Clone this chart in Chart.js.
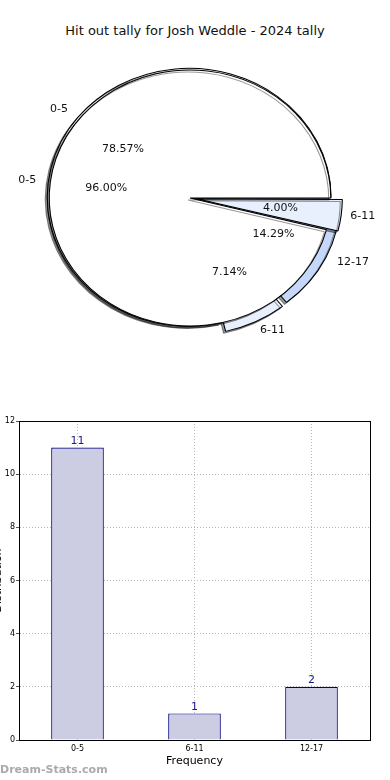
<!DOCTYPE html>
<html>
<head>
<meta charset="utf-8">
<script src="https://cdn.jsdelivr.net/npm/chart.js@4.4.1/dist/chart.umd.min.js"></script>
<style>
body { margin:0; background:#fff; width:390px; height:780px; overflow:hidden; position:relative; font-family:"DejaVu Sans", sans-serif; }
#title { position:absolute; top:23px; left:0; width:390px; text-align:center; font-size:13px; color:#111; }
.pie { position:absolute; left:0; top:38px; }
#bars { position:absolute; left:0; top:400px; }
#mark { position:absolute; left:0; top:763px; font-size:11px; font-weight:bold; color:#aaaaaa; }
</style>
</head>
<body>
<div id="title">Hit out tally for Josh Weddle - 2024 tally</div>
<canvas id="pieOuter" class="pie" width="380" height="320" style="width:380px;height:320px"></canvas>
<canvas id="pieInner" class="pie" width="380" height="320" style="width:380px;height:320px"></canvas>
<canvas id="bars" width="390" height="380" style="width:390px;height:380px"></canvas>
<div id="mark">Dream-Stats.com</div>
<script>
// pie data (outer = 2024, inner = second tally)
const pieOuterLabels = ['0-5', '6-11', '12-17'];
const pieOuterValues = [11, 1, 2];
const pieInnerLabels = ['0-5', '6-11'];
const pieInnerValues = [24, 1];
// bar data
const barLabels = ['0-5', '6-11', '12-17'];
const barValues = [11, 1, 2];
const yTicks = [0, 2, 4, 6, 8, 10, 12];

const sliceColors = {'0-5': '#ffffff', '6-11': '#e8f0fe', '12-17': '#c6d8fa'};
const stretch = 1.1; // pie is drawn a bit wider than tall
const font = '"DejaVu Sans", sans-serif';

// matplotlib goes counter clockwise from east, chart.js clockwise -> reverse
function pieData(labels, values, offsets) {
    return {
        labels: labels.slice().reverse(),
        datasets: [{
            data: values.slice().reverse(),
            backgroundColor: labels.slice().reverse().map(l => sliceColors[l]),
            borderColor: '#000',
            borderWidth: 1,
            offset: offsets.slice().reverse(),
            clip: false
        }]
    };
}

const ellipse = {
    id: 'ellipse',
    beforeDatasetsDraw(chart) {
        const arc = chart.getDatasetMeta(0).data[0];
        const ctx = chart.ctx;
        ctx.save();
        ctx.translate(arc.x, 0);
        ctx.scale(stretch, 1);
        ctx.translate(-arc.x, 0);
        ctx.shadowColor = 'rgba(0,0,0,0.4)';
        ctx.shadowOffsetX = -2;
        ctx.shadowOffsetY = 2;
    },
    afterDatasetsDraw(chart) {
        chart.ctx.restore();
    }
};

function drawPieLabels(chart, src) {
    const ctx = chart.ctx;
    const meta = src.getDatasetMeta(0);
    const vals = src.data.datasets[0].data;
    const total = vals.reduce((a, b) => a + b, 0);
    ctx.save();
    ctx.font = '11px ' + font;
    ctx.fillStyle = '#111';
    ctx.textBaseline = 'middle';
    meta.data.forEach((arc, i) => {
        const mid = (arc.startAngle + arc.endAngle) / 2;
        const off = (arc.options.offset || 0) / 4;
        const r = arc.outerRadius;
        const cx = arc.x + Math.cos(mid) * off * stretch;
        const cy = arc.y + Math.sin(mid) * off;
        const c = Math.cos(mid), s = Math.sin(mid);
        ctx.textAlign = 'center';
        ctx.fillText((100 * vals[i] / total).toFixed(2) + '%', cx + c * r * 0.6 * stretch, cy + s * r * 0.6);
        ctx.textAlign = c >= 0 ? 'left' : 'right';
        ctx.fillText(src.data.labels[i], cx + c * r * 1.1 * stretch, cy + s * r * 1.1);
    });
    ctx.restore();
}

const pieOpts = {
    responsive: false,
    animation: false,
    events: [],
    devicePixelRatio: 1,
    rotation: 90,
    radius: 128,
    layout: {padding: 0},
    plugins: {legend: {display: false}, tooltip: {enabled: false}}
};

const outerChart = new Chart(document.getElementById('pieOuter'), {
    type: 'pie',
    data: pieData(pieOuterLabels, pieOuterValues, [4, 24, 30]),
    options: pieOpts,
    plugins: [ellipse]
});

const innerChart = new Chart(document.getElementById('pieInner'), {
    type: 'pie',
    data: pieData(pieInnerLabels, pieInnerValues, [0, 24]),
    options: pieOpts,
    plugins: [ellipse, {
        id: 'pieLabels',
        afterDraw(chart) {
            drawPieLabels(chart, outerChart);
            drawPieLabels(chart, chart);
        }
    }]
});

const barExtras = {
    id: 'barExtras',
    afterDraw(chart) {
        const ctx = chart.ctx;
        const a = chart.chartArea;
        ctx.save();
        ctx.strokeStyle = '#000';
        ctx.lineWidth = 1;
        ctx.strokeRect(Math.round(a.left) + 0.5, Math.round(a.top) + 0.5, Math.round(a.right - a.left), Math.round(a.bottom - a.top));
        // value above each bar
        ctx.font = '11px ' + font;
        ctx.fillStyle = '#1a1a8c';
        ctx.textAlign = 'center';
        ctx.textBaseline = 'bottom';
        chart.getDatasetMeta(0).data.forEach((bar, i) => {
            ctx.fillText(barValues[i], bar.x, bar.y - 1);
        });
        // y title, mostly off the left edge like the original
        ctx.translate(-2, (a.top + a.bottom) / 2);
        ctx.rotate(-Math.PI / 2);
        ctx.fillStyle = '#000';
        ctx.textBaseline = 'middle';
        ctx.fillText('Distribution', 0, 0);
        ctx.restore();
    }
};

new Chart(document.getElementById('bars'), {
    type: 'bar',
    data: {
        labels: barLabels,
        datasets: [{
            data: barValues,
            backgroundColor: '#ccccE3',
            borderColor: '#000080',
            borderWidth: 1.2,
            barPercentage: 0.45,
            categoryPercentage: 1
        }]
    },
    options: {
        responsive: false,
        animation: false,
        events: [],
        devicePixelRatio: 1,
        layout: {padding: {top: 21, right: 20, left: 0, bottom: 0}},
        plugins: {legend: {display: false}, tooltip: {enabled: false}},
        scales: {
            x: {
                grid: {offset: false, color: '#b8b8b8', drawTicks: false},
                border: {color: '#000', dash: [1, 2]},
                ticks: {font: {size: 8, family: font}, color: '#000', padding: 4},
                title: {display: true, text: 'Frequency', font: {size: 11, family: font}, color: '#000', padding: {top: 0, bottom: 12}},
                afterFit(s) { s.height = 40; }
            },
            y: {
                min: 0,
                max: 12,
                afterBuildTicks(s) { s.ticks = yTicks.map(v => ({value: v})); },
                grid: {color: '#b8b8b8', tickLength: 3, tickColor: '#555'},
                border: {color: '#000', dash: [1, 2]},
                ticks: {font: {size: 8, family: font}, color: '#000', padding: 1},
                afterFit(s) { s.width = 19; }
            }
        }
    },
    plugins: [barExtras]
});
</script>
</body>
</html>
